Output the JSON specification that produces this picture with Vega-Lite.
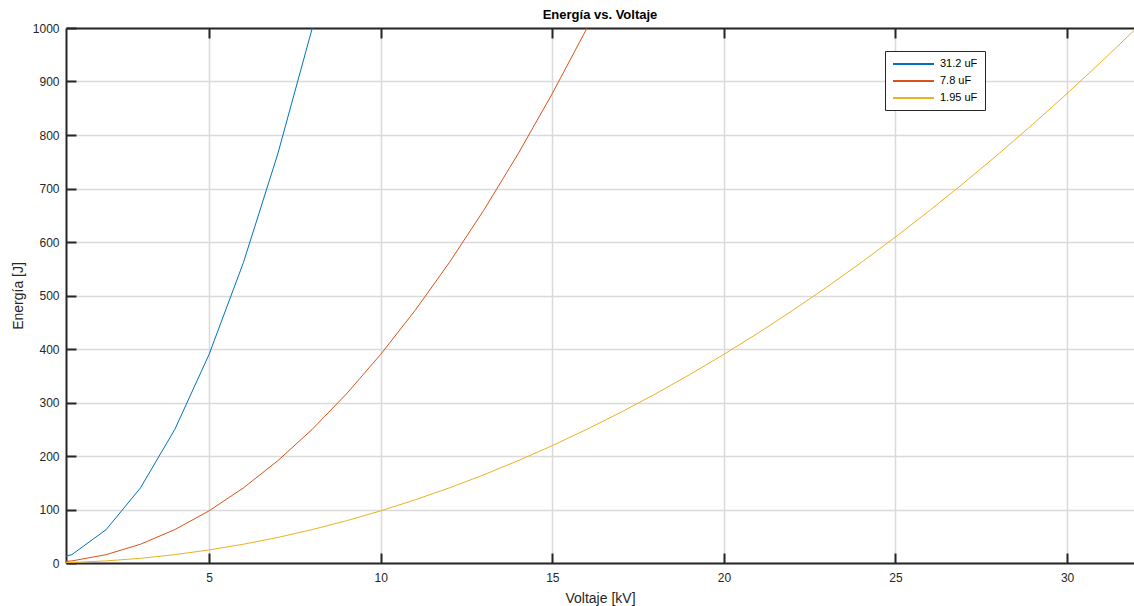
{
  "$schema": "https://vega.github.io/schema/vega-lite/v6.json",
  "autosize": {"type": "none"},
  "width": 1068,
  "height": 535,
  "padding": {"left": 66, "top": 28, "right": 0, "bottom": 43},
  "background": "white",
  "config": {
    "font": "Liberation Sans",
    "view": {"stroke": null},
    "axis": {"labelFont": "Liberation Sans", "titleFont": "Liberation Sans", "labelColor": "#262626", "titleColor": "#262626", "titleFontWeight": "normal", "labelFontSize": 12, "titleFontSize": 14}
  },
  "title": {"text": "Energía vs. Voltaje", "fontSize": 13, "fontWeight": "bold", "color": "#000000", "font": "Liberation Sans", "anchor": "middle", "frame": "group", "offset": 9, "dy": 9},
  "datasets": {
    "energy": [
      {"V": 0, "E": 0, "serie": "31.2 uF"},
      {"V": 1, "E": 15.6, "serie": "31.2 uF"},
      {"V": 2, "E": 62.4, "serie": "31.2 uF"},
      {"V": 3, "E": 140.4, "serie": "31.2 uF"},
      {"V": 4, "E": 249.6, "serie": "31.2 uF"},
      {"V": 5, "E": 390, "serie": "31.2 uF"},
      {"V": 6, "E": 561.6, "serie": "31.2 uF"},
      {"V": 7, "E": 764.4, "serie": "31.2 uF"},
      {"V": 8, "E": 998.4, "serie": "31.2 uF"},
      {"V": 9, "E": 1263.6, "serie": "31.2 uF"},
      {"V": 0, "E": 0, "serie": "7.8 uF"},
      {"V": 1, "E": 3.9, "serie": "7.8 uF"},
      {"V": 2, "E": 15.6, "serie": "7.8 uF"},
      {"V": 3, "E": 35.1, "serie": "7.8 uF"},
      {"V": 4, "E": 62.4, "serie": "7.8 uF"},
      {"V": 5, "E": 97.5, "serie": "7.8 uF"},
      {"V": 6, "E": 140.4, "serie": "7.8 uF"},
      {"V": 7, "E": 191.1, "serie": "7.8 uF"},
      {"V": 8, "E": 249.6, "serie": "7.8 uF"},
      {"V": 9, "E": 315.9, "serie": "7.8 uF"},
      {"V": 10, "E": 390, "serie": "7.8 uF"},
      {"V": 11, "E": 471.9, "serie": "7.8 uF"},
      {"V": 12, "E": 561.6, "serie": "7.8 uF"},
      {"V": 13, "E": 659.1, "serie": "7.8 uF"},
      {"V": 14, "E": 764.4, "serie": "7.8 uF"},
      {"V": 15, "E": 877.5, "serie": "7.8 uF"},
      {"V": 16, "E": 998.4, "serie": "7.8 uF"},
      {"V": 17, "E": 1127.1, "serie": "7.8 uF"},
      {"V": 0, "E": 0, "serie": "1.95 uF"},
      {"V": 1, "E": 0.975, "serie": "1.95 uF"},
      {"V": 2, "E": 3.9, "serie": "1.95 uF"},
      {"V": 3, "E": 8.775, "serie": "1.95 uF"},
      {"V": 4, "E": 15.6, "serie": "1.95 uF"},
      {"V": 5, "E": 24.375, "serie": "1.95 uF"},
      {"V": 6, "E": 35.1, "serie": "1.95 uF"},
      {"V": 7, "E": 47.775, "serie": "1.95 uF"},
      {"V": 8, "E": 62.4, "serie": "1.95 uF"},
      {"V": 9, "E": 78.975, "serie": "1.95 uF"},
      {"V": 10, "E": 97.5, "serie": "1.95 uF"},
      {"V": 11, "E": 117.975, "serie": "1.95 uF"},
      {"V": 12, "E": 140.4, "serie": "1.95 uF"},
      {"V": 13, "E": 164.775, "serie": "1.95 uF"},
      {"V": 14, "E": 191.1, "serie": "1.95 uF"},
      {"V": 15, "E": 219.375, "serie": "1.95 uF"},
      {"V": 16, "E": 249.6, "serie": "1.95 uF"},
      {"V": 17, "E": 281.775, "serie": "1.95 uF"},
      {"V": 18, "E": 315.9, "serie": "1.95 uF"},
      {"V": 19, "E": 351.975, "serie": "1.95 uF"},
      {"V": 20, "E": 390, "serie": "1.95 uF"},
      {"V": 21, "E": 429.975, "serie": "1.95 uF"},
      {"V": 22, "E": 471.9, "serie": "1.95 uF"},
      {"V": 23, "E": 515.775, "serie": "1.95 uF"},
      {"V": 24, "E": 561.6, "serie": "1.95 uF"},
      {"V": 25, "E": 609.375, "serie": "1.95 uF"},
      {"V": 26, "E": 659.1, "serie": "1.95 uF"},
      {"V": 27, "E": 710.775, "serie": "1.95 uF"},
      {"V": 28, "E": 764.4, "serie": "1.95 uF"},
      {"V": 29, "E": 819.975, "serie": "1.95 uF"},
      {"V": 30, "E": 877.5, "serie": "1.95 uF"},
      {"V": 31, "E": 936.975, "serie": "1.95 uF"},
      {"V": 32, "E": 998.4, "serie": "1.95 uF"}
    ]
  },
  "data": {"name": "energy"},
  "layer": [
    {
      "mark": {"type": "line", "strokeWidth": 1, "clip": true},
      "encoding": {
        "x": {"field": "V", "type": "quantitative",
          "scale": {"domain": [0.83, 31.95], "nice": false, "zero": false},
          "axis": {"title": "Voltaje [kV]", "orient": "bottom", "values": [5, 10, 15, 20, 25, 30],
            "grid": true, "gridColor": "#dadada", "gridWidth": 1.5,
            "domainColor": "#262626", "domainWidth": 2,
            "tickColor": "#262626", "tickSize": -10, "tickWidth": 2,
            "labelPadding": 19, "titleY": 28, "titlePadding": 0}},
        "y": {"field": "E", "type": "quantitative",
          "scale": {"domain": [0, 1000], "nice": false},
          "axis": {"title": "Energía [J]", "format": "d", "values": [0, 100, 200, 300, 400, 500, 600, 700, 800, 900, 1000],
            "grid": true, "gridColor": "#dadada", "gridWidth": 1.5,
            "domainColor": "#262626", "domainWidth": 2,
            "ticks": true, "tickColor": "#262626", "tickSize": -10, "tickWidth": 2,
            "labelPadding": 17, "titleX": -41}},
        "color": {"field": "serie", "type": "nominal",
          "scale": {"domain": ["31.2 uF", "7.8 uF", "1.95 uF"], "range": ["#0072BD", "#D95319", "#EDB120"]},
          "legend": {"title": null, "orient": "none", "legendX": 819, "legendY": 23,
            "symbolType": "M-1,0H7.2", "symbolSize": 100, "symbolStrokeWidth": 2,
            "labelFontSize": 11, "labelColor": "#000000", "labelFont": "Liberation Sans",
            "fillColor": "white", "strokeColor": "#262626", "padding": 7, "rowPadding": 6,
            "labelOffset": 36}},
        "order": {"field": "V", "type": "quantitative"}
      }
    },
    {
      "mark": {"type": "line", "strokeOpacity": 0, "clip": true},
      "encoding": {
        "x": {"field": "V", "type": "quantitative",
          "axis": {"orient": "top", "title": null, "labels": false, "values": [5, 10, 15, 20, 25, 30],
            "grid": false, "domainColor": "#262626", "domainWidth": 2,
            "tickColor": "#262626", "tickSize": -10, "tickWidth": 2}},
        "y": {"field": "E", "type": "quantitative",
          "axis": {"title": "Energía [J]", "format": "d", "values": [0, 100, 200, 300, 400, 500, 600, 700, 800, 900, 1000],
            "grid": true, "gridColor": "#dadada", "gridWidth": 1.5,
            "domainColor": "#262626", "domainWidth": 2,
            "ticks": true, "tickColor": "#262626", "tickSize": -10, "tickWidth": 2,
            "labelPadding": 17, "titleX": -41}},
        "detail": {"field": "serie", "type": "nominal"}
      }
    }
  ],
  "resolve": {"axis": {"x": "independent"}}
}
